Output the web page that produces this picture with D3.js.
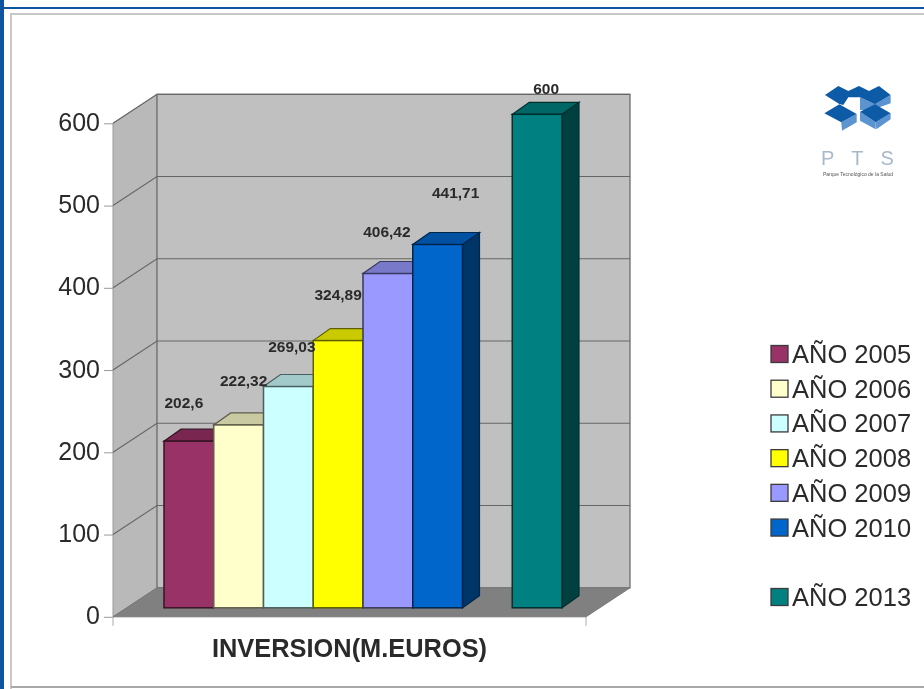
<html>

<head>
    <title>Inversion PTS</title>
    <meta charset="utf-8">
    <script src="https://d3js.org/d3.v7.min.js"></script>
    <style>
        html, body { margin: 0; padding: 0; background: #fff; overflow: hidden; }
        svg { display: block; }
        text { font-family: "Liberation Sans", Arial, sans-serif; fill: #2b2b2b; }
    </style>
</head>

<body>
    <svg width="924" height="689"></svg>

    <script>
        // data, the empty entry is the gap before 2013
        const anios = ['AÑO 2005', 'AÑO 2006', 'AÑO 2007', 'AÑO 2008', 'AÑO 2009', 'AÑO 2010', '', 'AÑO 2013'];
        const inversion = [202.6, 222.32, 269.03, 324.89, 406.42, 441.71, null, 600];
        const colores = ['#993366', '#ffffcc', '#ccffff', '#ffff00', '#9999ff', '#0066cc', null, '#008080'];
        const yTicks = [0, 100, 200, 300, 400, 500, 600];
        const tituloEje = 'INVERSION(M.EUROS)';

        // the data labels sit oddly in the original, so nudge each one by hand
        const labelNudge = [[-5, -38], [5, -44], [3.5, -40], [0, -46], [-1, -42], [18, -51], [0, 0], [9, -25]];

        const svg = d3.select('svg');
        const root = svg.append('g').attr('filter', 'url(#soft)');

        svg.append('defs').append('filter').attr('id', 'soft')
            .attr('x', 0).attr('y', 0).attr('width', 1).attr('height', 1)
            .append('feGaussianBlur').attr('stdDeviation', 0.55);

        // page frame
        root.append('rect').attr('width', 924).attr('height', 689).attr('fill', '#fff');
        root.append('rect').attr('x', 0).attr('y', 0).attr('width', 4).attr('height', 689).attr('fill', '#0b559f');
        root.append('rect').attr('x', 4).attr('y', 7).attr('width', 920).attr('height', 2).attr('fill', '#0b559f');
        root.append('path').attr('d', 'M11,689V14H924').attr('fill', 'none').attr('stroke', '#c8c8c8').attr('stroke-width', 2);
        root.append('path').attr('d', 'M11,687H924').attr('stroke', '#a8a8a8').attr('stroke-width', 2);

        // scales, y is on the front plane of the 3d box
        const y = d3.scaleLinear().domain([0, 600]).range([616.8, 123.3]);
        const x = d3.scaleBand().domain(anios).range([164, 562]);
        const legendY = d3.scalePoint().domain(anios).range([354, 597]);

        const box = { left: 113, right: 586, dx: 44, dy: -29 };
        const bar = { dx: 17, dy: -12, shift: -9 };

        const line = pts => 'M' + pts.map(p => p.join(',')).join('L') + 'Z';
        const chart = root.append('g');

        // side wall, back wall and floor
        chart.append('path')
            .attr('d', line([[box.left, y(0)], [box.left, y(600)], [box.left + box.dx, y(600) + box.dy], [box.left + box.dx, y(0) + box.dy]]))
            .attr('fill', '#b9b9b9').attr('stroke', '#9a9a9a');
        chart.append('path')
            .attr('d', line([[box.left + box.dx, y(600) + box.dy], [box.right + box.dx, y(600) + box.dy], [box.right + box.dx, y(0) + box.dy], [box.left + box.dx, y(0) + box.dy]]))
            .attr('fill', '#c0c0c0').attr('stroke', '#6e6e6e').attr('stroke-width', 1.3);
        chart.append('path')
            .attr('d', line([[box.left, y(0)], [box.right, y(0)], [box.right + box.dx, y(0) + box.dy], [box.left + box.dx, y(0) + box.dy]]))
            .attr('fill', '#808080').attr('stroke', '#777');

        // grid lines go round the side wall and the back
        chart.selectAll('.grid').data(yTicks.slice(1)).enter().append('path')
            .attr('class', 'grid')
            .attr('d', d => `M${box.left},${y(d)}L${box.left + box.dx},${y(d) + box.dy}H${box.right + box.dx}`)
            .attr('fill', 'none').attr('stroke', '#666').attr('stroke-width', 1.1);

        // y axis
        const yAxis = d3.axisLeft(y).tickValues(yTicks).tickSize(9).tickPadding(4).tickFormat(d3.format('d'));
        const yAxisG = chart.append('g').attr('transform', `translate(${box.left},0)`).call(yAxis);
        yAxisG.select('.domain').remove();
        yAxisG.selectAll('line').attr('stroke', '#999');
        yAxisG.selectAll('text').attr('font-size', 25).attr('y', -1).style('font-family', '"Liberation Sans", Arial, sans-serif').attr('fill', '#2b2b2b');

        // the two short ticks under the floor
        chart.selectAll('.xtick').data([box.left, box.right]).enter().append('line')
            .attr('class', 'xtick')
            .attr('x1', d => d).attr('x2', d => d)
            .attr('y1', y(0)).attr('y2', y(0) + 9)
            .attr('stroke', '#aaa');

        chart.append('text')
            .attr('x', 349.5).attr('y', 657)
            .attr('text-anchor', 'middle')
            .attr('font-size', 25.4).attr('font-weight', 'bold')
            .text(tituloEje);

        // bars
        const rows = anios.map((name, i) => ({ name, value: inversion[i], color: colores[i], nudge: labelNudge[i] }))
            .filter(d => d.value !== null);

        const bars = chart.selectAll('.bar').data(rows).enter().append('g').attr('class', 'bar');
        const edge = d => d3.color(d.color).darker(2.8);

        bars.append('path')   // side
            .attr('d', d => {
                const x1 = x(d.name) + x.bandwidth(), t = y(d.value) + bar.shift, b = y(0) + bar.shift;
                return line([[x1, t], [x1 + bar.dx, t + bar.dy], [x1 + bar.dx, b + bar.dy], [x1, b]]);
            })
            .attr('fill', d => d3.color(d.color).darker(1.9)).attr('stroke', edge).attr('stroke-width', 1.2);
        bars.append('path')   // top
            .attr('d', d => {
                const x0 = x(d.name), x1 = x0 + x.bandwidth(), t = y(d.value) + bar.shift;
                return line([[x0, t], [x1, t], [x1 + bar.dx, t + bar.dy], [x0 + bar.dx, t + bar.dy]]);
            })
            .attr('fill', d => d3.color(d.color).darker(0.65)).attr('stroke', edge).attr('stroke-width', 1.2);
        bars.append('rect')   // front
            .attr('x', d => x(d.name))
            .attr('y', d => y(d.value) + bar.shift)
            .attr('width', x.bandwidth())
            .attr('height', d => y(0) - y(d.value))
            .attr('fill', d => d.color).attr('stroke', edge).attr('stroke-width', 1.5);

        chart.selectAll('.valor').data(rows).enter().append('text')
            .attr('class', 'valor')
            .attr('x', d => x(d.name) + x.bandwidth() / 2 + d.nudge[0])
            .attr('y', d => y(d.value) + bar.shift + d.nudge[1] + 5)
            .attr('text-anchor', 'middle')
            .attr('font-size', 15.5).attr('font-weight', 'bold')
            .text(d => String(d.value).replace('.', ','));

        // legend
        const legend = root.append('g');
        const items = legend.selectAll('g').data(rows).enter().append('g')
            .attr('transform', d => `translate(771,${legendY(d.name)})`);
        items.append('rect')
            .attr('x', 0).attr('y', -8.5).attr('width', 17).attr('height', 17)
            .attr('fill', d => d.color).attr('stroke', '#3a3a3a').attr('stroke-width', 1.3);
        items.append('text')
            .attr('x', 21).attr('y', 9)
            .attr('font-size', 25.5)
            .text(d => d.name);

        // PTS logo, drawn in zoomed coordinates and scaled down
        const logo = root.append('g').attr('transform', 'translate(780,60) scale(0.3333)');
        const logoDark = [
            [[135, 105], [175, 78], [205, 93], [237, 78], [267, 93], [297, 78], [332, 105], [285, 133], [240, 112], [205, 112], [190, 135], [178, 132]],
            [[133, 160], [178, 133], [230, 162], [184, 187]],
            [[240, 155], [285, 133], [332, 160], [287, 187]]
        ];
        const logoLight = [
            [[184, 187], [230, 162], [230, 187], [186, 212]],
            [[287, 187], [332, 160], [332, 178], [289, 208]],
            [[240, 155], [287, 187], [287, 208], [240, 182]],
            [[240, 112], [285, 133], [332, 105], [332, 130], [275, 150], [240, 150]]
        ];
        logo.selectAll('.lt').data(logoLight).enter().append('path').attr('class', 'lt').attr('d', line).attr('fill', '#5b93d1');
        logo.selectAll('.dk').data(logoDark).enter().append('path').attr('class', 'dk').attr('d', line).attr('fill', '#0f5aa6');

        root.append('text').attr('x', 821).attr('y', 165)
            .attr('font-size', 20).attr('letter-spacing', 17).style('fill', '#a9b9c8').text('PTS');
        root.append('text').attr('x', 858).attr('y', 175.5).attr('text-anchor', 'middle')
            .attr('font-size', 5).style('fill', '#555').text('Parque Tecnológico de la Salud');
    </script>
</body>

</html>
